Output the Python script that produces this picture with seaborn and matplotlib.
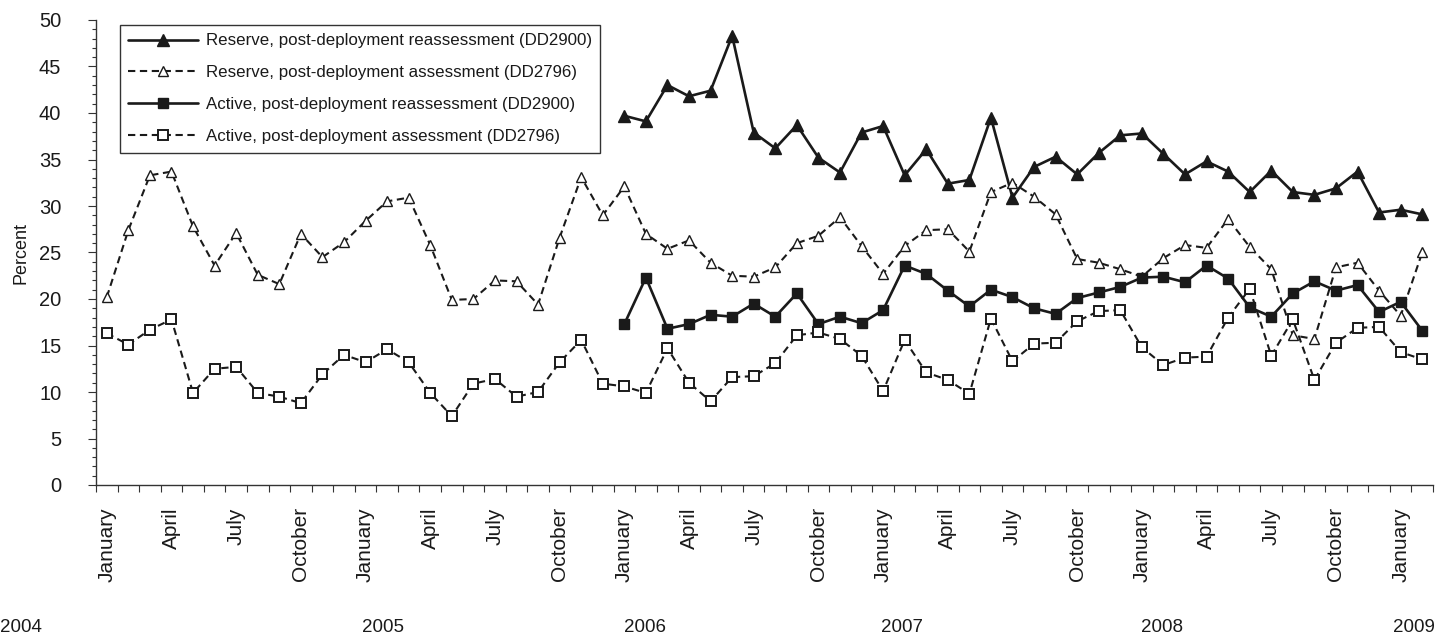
import numpy as np
import pandas as pd
import matplotlib
matplotlib.use("Agg")
import matplotlib.pyplot as plt
from matplotlib.ticker import FixedLocator, MultipleLocator
import seaborn as sns

# ---- data -------------------------------------------------------------
# monthly series, January 2004 (index 0) through February 2009 (index 61)
months_all = list(range(62))
months_dd2900 = list(range(24, 62))  # reassessment starts January 2006

reserve_reassess = [
    39.7, 39.1, 43.0, 41.8, 42.4, 48.3, 37.9, 36.2, 38.7, 35.2, 33.6, 37.9,
    38.6, 33.3, 36.1, 32.4, 32.8, 39.5, 30.9, 34.2, 35.3, 33.4, 35.7, 37.6,
    37.8, 35.6, 33.4, 34.8, 33.7, 31.5, 33.8, 31.5, 31.2, 31.9, 33.7, 29.3,
    29.6, 29.1,
]
reserve_assess = [
    20.2, 27.4, 33.3, 33.7, 27.8, 23.6, 27.1, 22.6, 21.6, 27.0, 24.5, 26.1,
    28.4, 30.5, 30.9, 25.8, 19.9, 20.0, 22.0, 21.9, 19.4, 26.6, 33.1, 29.0,
    32.1, 27.0, 25.4, 26.3, 23.9, 22.5, 22.4, 23.4, 26.0, 26.8, 28.8, 25.7,
    22.7, 25.7, 27.4, 27.5, 25.1, 31.5, 32.5, 31.0, 29.1, 24.3, 23.9, 23.2,
    22.4, 24.4, 25.8, 25.5, 28.6, 25.6, 23.2, 16.1, 15.7, 23.4, 23.9, 20.9,
    18.2, 25.0,
]
active_reassess = [
    17.3, 22.3, 16.8, 17.3, 18.3, 18.1, 19.5, 18.1, 20.6, 17.3, 18.1, 17.4,
    18.8, 23.6, 22.7, 20.9, 19.2, 21.0, 20.2, 19.0, 18.4, 20.1, 20.7, 21.3,
    22.3, 22.4, 21.8, 23.6, 22.2, 19.1, 18.1, 20.6, 21.9, 20.9, 21.5, 18.6,
    19.7, 16.6,
]
active_assess = [
    16.3, 15.1, 16.7, 17.8, 9.9, 12.5, 12.7, 9.9, 9.5, 8.8, 11.9, 14.0,
    13.2, 14.6, 13.2, 9.9, 7.4, 10.9, 11.4, 9.5, 10.0, 13.2, 15.6, 10.9,
    10.6, 9.9, 14.7, 11.0, 9.0, 11.6, 11.7, 13.1, 16.1, 16.4, 15.7, 13.9,
    10.1, 15.6, 12.1, 11.3, 9.8, 17.9, 13.3, 15.2, 15.3, 17.6, 18.7, 18.8,
    14.8, 12.9, 13.7, 13.8, 18.0, 21.1, 13.9, 17.8, 11.3, 15.3, 16.9, 17.0,
    14.3, 13.5,
]

series_labels = [
    "Reserve, post-deployment reassessment (DD2900)",
    "Reserve, post-deployment assessment (DD2796)",
    "Active, post-deployment reassessment (DD2900)",
    "Active, post-deployment assessment (DD2796)",
]
month_names = ["January", "April", "July", "October"]
years = ["2004", "2005", "2006", "2007", "2008", "2009"]

# ---- style ------------------------------------------------------------
sns.set_style("white")
plt.rcParams["font.family"] = ["Liberation Sans", "DejaVu Sans"]
ink = "#1a1a1a"
plt.rcParams["text.color"] = ink
plt.rcParams["axes.labelcolor"] = ink
plt.rcParams["xtick.color"] = ink
plt.rcParams["ytick.color"] = ink

W, H = 1435, 639
fig = plt.figure(figsize=(W / 100, H / 100), dpi=100)
ax = fig.add_axes([96 / W, 1 - 485 / H, (1433 - 96) / W, (485 - 20) / H])

dash = (3.5, 2.2)
styles = [
    dict(x=months_dd2900, y=reserve_reassess, linestyle="-", lw=1.9,
         marker="^", ms=8.0, mfc=ink, mec=ink, mew=1.0),
    dict(x=months_all, y=reserve_assess, linestyle=(0, dash), lw=1.5,
         marker="^", ms=7.0, mfc="white", mec=ink, mew=1.0),
    dict(x=months_dd2900, y=active_reassess, linestyle="-", lw=1.9,
         marker="s", ms=7.5, mfc=ink, mec=ink, mew=1.0),
    dict(x=months_all, y=active_assess, linestyle=(0, dash), lw=1.5,
         marker="s", ms=7.0, mfc="white", mec=ink, mew=1.4),
]

for lab, st in zip(series_labels, styles):
    df = pd.DataFrame({"month": st["x"], "pct": st["y"]})
    sns.lineplot(
        data=df, x="month", y="pct", ax=ax, color=ink, label=lab,
        linestyle=st["linestyle"], linewidth=st["lw"], marker=st["marker"],
        markersize=st["ms"], markerfacecolor=st["mfc"],
        markeredgecolor=st["mec"], markeredgewidth=st["mew"],
        estimator=None, sort=False,
    )

# ---- axes -------------------------------------------------------------
ax.set_xlim(-0.5, 61.5)
ax.set_ylim(0, 50)
for s in ["top", "right"]:
    ax.spines[s].set_visible(False)
for s in ["left", "bottom"]:
    ax.spines[s].set_color("#333333")
    ax.spines[s].set_linewidth(1.0)

label_pos = list(range(0, 62, 3))
ax.xaxis.set_major_locator(FixedLocator(label_pos))
ax.set_xticklabels([month_names[(p // 3) % 4] for p in label_pos],
                   rotation=90, fontsize=15)
ax.xaxis.set_minor_locator(FixedLocator(np.arange(-0.5, 62, 1.0)))
ax.tick_params(axis="x", which="major", length=0, pad=16)
ax.tick_params(axis="x", which="minor", length=5, width=0.8,
               direction="out", color="#333333", bottom=True)

ax.yaxis.set_major_locator(MultipleLocator(5))
ax.yaxis.set_minor_locator(MultipleLocator(1))
ax.tick_params(axis="y", which="major", length=6, width=0.8,
               direction="out", labelsize=14.5, pad=19, left=True,
               color="#333333")
ax.tick_params(axis="y", which="minor", length=3, width=0.8,
               direction="out", left=True, color="#333333")

ax.set_xlabel("")
ax.set_ylabel("Percent", fontsize=13)
ax.yaxis.set_label_coords(-0.05, 0.5)

leg = ax.legend(
    loc="upper left", bbox_to_anchor=(120 / W, 1 - 25 / H),
    bbox_transform=fig.transFigure, borderaxespad=0, fontsize=12.2,
    frameon=True, fancybox=False, shadow=False, handlelength=4.1,
    handletextpad=0.45, labelspacing=1.0, borderpad=0.5,
)
leg.get_frame().set_edgecolor("#333333")
leg.get_frame().set_linewidth(1.0)
leg.get_frame().set_alpha(1.0)

# year row below the month labels
year_x = [0.0, 383 / W, 645 / W, 902 / W, 1162 / W, 1.0]
year_ha = ["left", "center", "center", "center", "center", "right"]
for yr, xf, ha in zip(years, year_x, year_ha):
    fig.text(xf, 1 - 628 / H, yr, ha=ha, va="center", fontsize=13.5)

fig.savefig("out.png", dpi=100)
